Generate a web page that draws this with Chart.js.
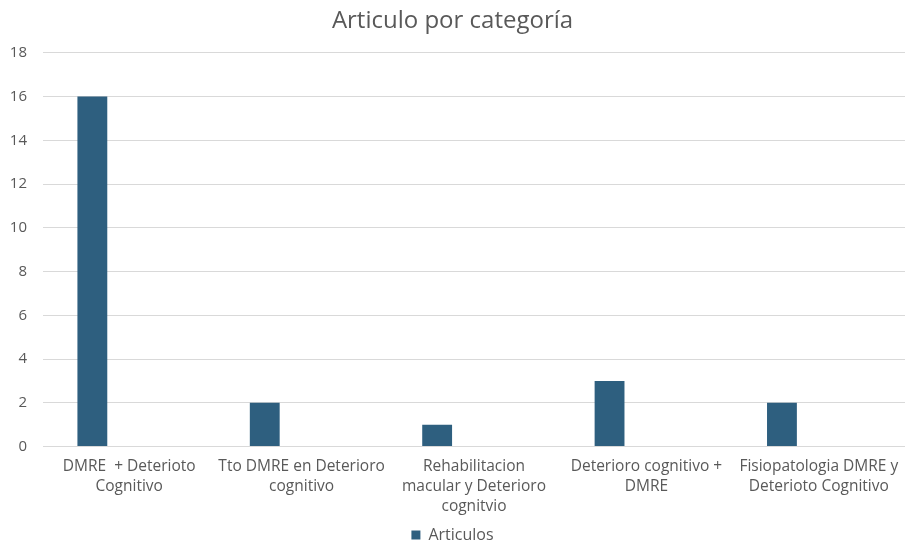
<!DOCTYPE html>
<html>
<head>
<meta charset="utf-8">
<script src="https://cdn.jsdelivr.net/npm/chart.js@4/dist/chart.umd.min.js"></script>
<style>
  html, body { margin: 0; padding: 0; background: #ffffff; }
  #wrap { width: 905px; height: 544px; }
</style>
</head>
<body>
<div id="wrap"><canvas id="c" width="905" height="544"></canvas></div>
<script>
// Category labels (already split into lines)
const categories = [
  ["DMRE  + Deterioto", "Cognitivo"],
  ["Tto DMRE en Deterioro", "cognitivo"],
  ["Rehabilitacion", "macular y Deterioro", "cognitvio"],
  ["Deterioro cognitivo +", "DMRE"],
  ["Fisiopatologia DMRE y", "Deterioto Cognitivo"]
];
const articulos = [16, 2, 1, 3, 2];
// Second slot in each group is empty (no data)
const emptySeries = [null, null, null, null, null];
const yTicks = [0, 2, 4, 6, 8, 10, 12, 14, 16, 18];

const textColor = '#595959';
const fontFamily = "'Open Sans', 'Liberation Sans', sans-serif";

new Chart(document.getElementById('c'), {
  type: 'bar',
  data: {
    labels: categories,
    datasets: [
      {
        label: 'Articulos',
        data: articulos,
        backgroundColor: '#2e5f7f',
        categoryPercentage: 0.855,
        barPercentage: 0.405
      },
      {
        label: '',
        data: emptySeries,
        backgroundColor: 'rgba(0,0,0,0)',
        categoryPercentage: 0.855,
        barPercentage: 0.405
      }
    ]
  },
  options: {
    responsive: false,
    animation: false,
    layout: { padding: { left: 0, right: 0, top: 0, bottom: -9 } },
    plugins: {
      title: {
        display: true,
        text: 'Articulo por categoría',
        color: textColor,
        font: { family: fontFamily, size: 24, weight: 'normal' },
        padding: { top: 7, bottom: 17 }
      },
      legend: {
        position: 'bottom',
        labels: {
          filter: (item) => item.text !== '',
          color: textColor,
          font: { family: fontFamily, size: 16 },
          boxWidth: 9,
          boxHeight: 9,
          padding: 0
        }
      },
      tooltip: { enabled: false }
    },
    scales: {
      x: {
        afterFit: (axis) => { axis.paddingLeft = 0; axis.paddingRight = 0; },
        grid: { display: false, drawTicks: false },
        border: { display: false },
        ticks: {
          color: textColor,
          font: { family: fontFamily, size: 15.5, lineHeight: 1.3 },
          maxRotation: 0,
          minRotation: 0,
          autoSkip: false,
          padding: 10
        }
      },
      y: {
        min: 0,
        max: 18,
        afterBuildTicks: (axis) => { axis.ticks = yTicks.map(v => ({ value: v })); },
        afterFit: (axis) => { axis.width = 43; },
        grid: { color: '#d9d9d9', drawTicks: false, lineWidth: 1 },
        border: { display: false },
        ticks: {
          color: textColor,
          font: { family: fontFamily, size: 15 },
          padding: 16
        }
      }
    }
  }
});
</script>
</body>
</html>
